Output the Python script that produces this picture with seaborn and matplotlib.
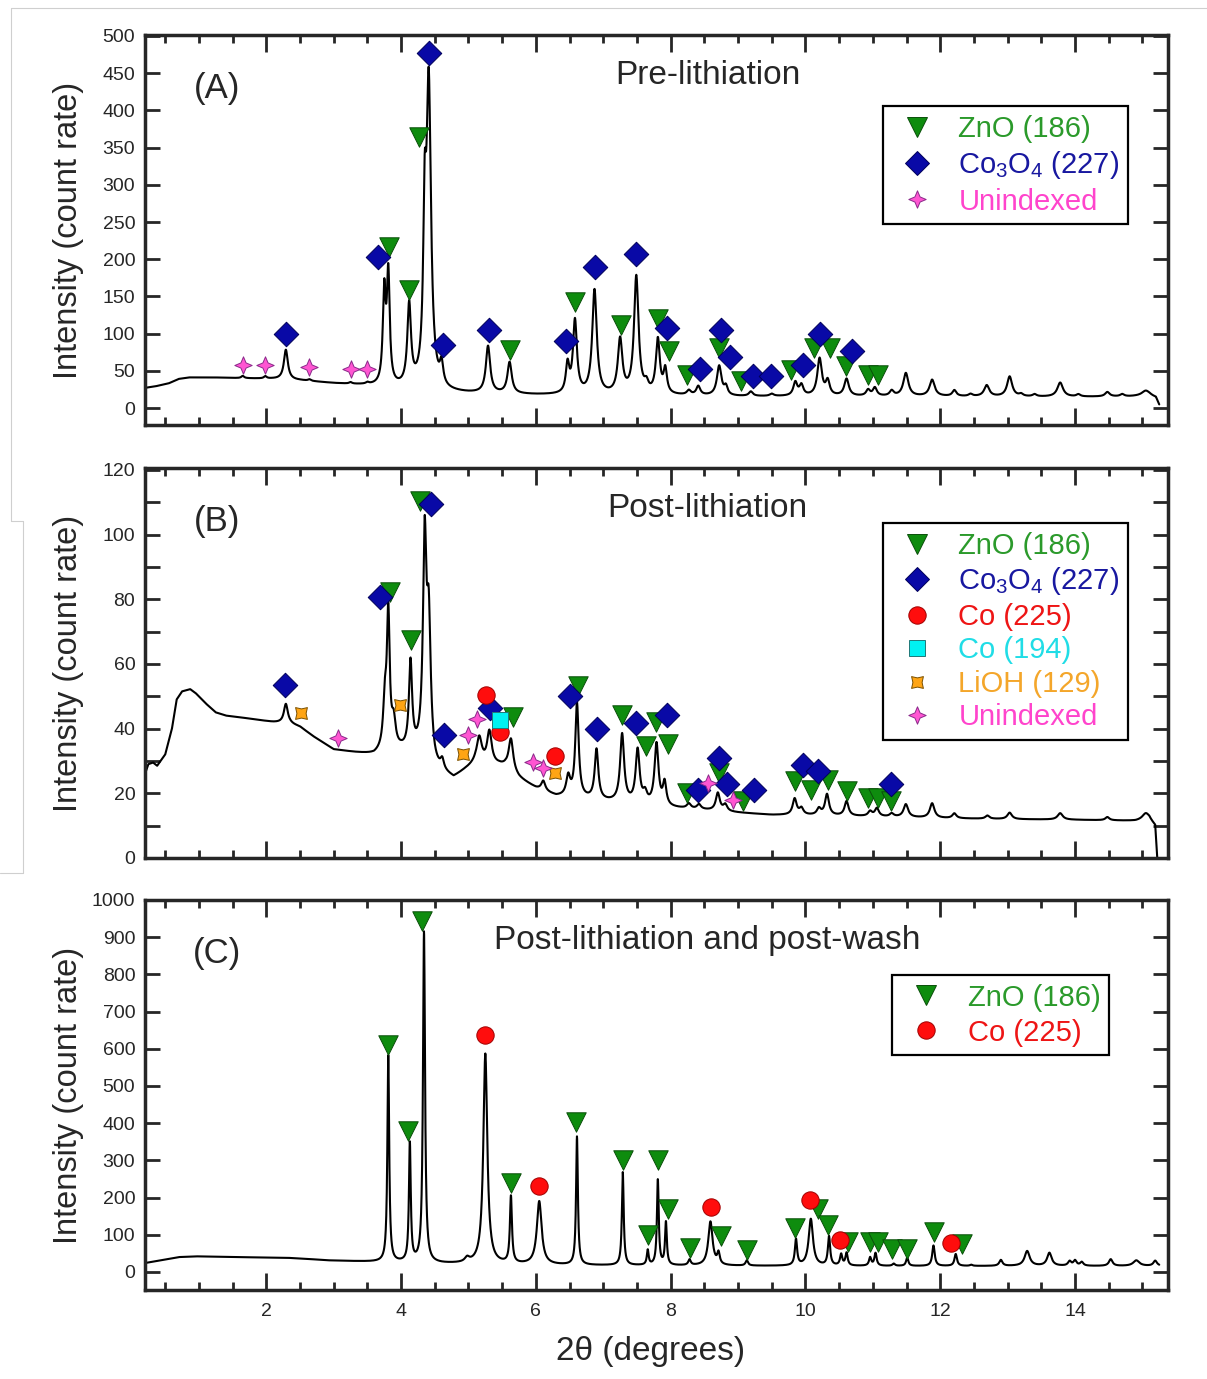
import numpy as np
import pandas as pd
import matplotlib
matplotlib.use("Agg")
import matplotlib.pyplot as plt
from matplotlib.lines import Line2D
from matplotlib.path import Path
from matplotlib.ticker import MultipleLocator
import seaborn as sns

# ---------------- Panel A : pre-lithiation ----------------
a_bg_x = [0.2, 0.35, 0.55, 0.7, 0.85, 1.2, 1.6, 2.1, 2.5, 3.0, 3.5, 3.7, 4.0, 4.3, 4.6, 5.0, 5.5,
          6.0, 7.0, 8.0, 9.0, 10.0, 11.0, 12.0, 13.0, 14.0, 14.8, 15.1, 15.2, 15.25]
a_bg_y = [27, 29, 33, 39, 41, 41, 40, 39, 37, 33, 30, 28, 26, 25, 21, 19.5, 18.5,
          17.5, 16.5, 16.5, 15.5, 15.5, 15.5, 15.5, 15, 15, 15.5, 16.5, 14, 4]
a_peak_pos = [1.65, 1.985, 2.29, 2.64, 3.25, 3.50, 3.75, 3.81, 4.12, 4.35, 4.41, 4.60, 5.29, 5.61,
              6.47, 6.58, 6.87, 7.25, 7.49, 7.64, 7.81, 7.92, 8.27, 8.41, 8.72, 8.82, 9.19, 9.50,
              9.85, 9.94, 10.21, 10.33, 10.61, 10.93, 11.03, 11.28, 11.49, 11.88, 12.21, 12.45,
              12.69, 13.03, 13.2, 13.4, 13.78, 14.05, 14.48, 14.7, 15.05]
a_peak_amp = [3, 3, 40, 2, 2, 2, 122, 146, 108, 190, 404, 28, 63, 42,
              38, 98, 140, 73, 158, 11, 73, 32, 6, 12, 40, 11, 6, 3,
              18, 14, 50, 19, 23, 8, 11, 7, 31, 22, 8, 3,
              15, 27, 3, 3, 19, 3, 6, 3, 7]
a_peak_hw = [0.025, 0.025, 0.035, 0.025, 0.025, 0.025, 0.025, 0.025, 0.032, 0.025, 0.04, 0.03, 0.038, 0.038,
             0.03, 0.035, 0.04, 0.04, 0.04, 0.035, 0.035, 0.03, 0.035, 0.035, 0.04, 0.03, 0.035, 0.035,
             0.035, 0.035, 0.04, 0.035, 0.04, 0.035, 0.035, 0.035, 0.045, 0.045, 0.035, 0.035,
             0.045, 0.045, 0.035, 0.035, 0.05, 0.035, 0.04, 0.035, 0.07]

a_zno_x = [3.82, 4.12, 4.26, 5.61, 6.58, 7.26, 7.81, 7.97, 8.24, 8.72, 9.04, 9.79, 10.12, 10.37, 10.60, 10.93, 11.07]
a_zno_y = [216, 159, 364, 78, 143, 111, 120, 76, 44, 81, 37, 51, 81, 81, 57, 45, 45]
a_co3o4_x = [2.29, 3.66, 4.41, 4.62, 5.30, 6.45, 6.87, 7.49, 7.94, 8.43, 8.74, 8.88, 9.22, 9.49, 9.96, 10.21, 10.69]
a_co3o4_y = [99.5, 203, 477, 84.5, 104.5, 90, 190, 206.5, 108, 52, 104.5, 68.4, 42.5, 43.5, 57.8, 99, 77]
a_unidx_x = [1.65, 1.985, 2.64, 3.25, 3.50]
a_unidx_y = [57.8, 57.8, 55.5, 52.4, 52]

# ---------------- Panel B : post-lithiation ----------------
b_bg_x = [0.2, 0.25, 0.32, 0.38, 0.5, 0.6, 0.67, 0.75, 0.87, 0.95, 1.1, 1.25, 1.4, 1.6, 2.1, 2.35,
          2.5, 2.7, 3.0, 3.3, 3.6, 3.72, 4.0, 4.3, 4.5, 4.62, 4.78, 4.95, 5.1, 5.45, 5.55, 5.75,
          6.0, 6.3, 6.6, 7.0, 7.5, 8.0, 8.5, 9.0, 9.5, 10.0, 11.0, 12.0, 13.0, 14.0, 14.9,
          15.1, 15.19, 15.22]
b_bg_y = [26, 29, 29.5, 28.5, 32, 40, 49, 51.5, 52.2, 51, 47.8, 45, 44, 43.5, 42, 41.5,
          40.5, 37.5, 33.5, 32.6, 31.8, 32.5, 33, 32, 27, 26, 24.5, 27, 29, 28.5, 28, 24.5,
          21.5, 19, 18.5, 17.5, 16.5, 15.5, 14.8, 14, 13.3, 13.2, 12.8, 12.3, 12, 11.8, 11.5,
          12, 10, 0]
b_peak_pos = [2.29, 3.76, 3.81, 3.89, 4.14, 4.35, 4.41, 4.61, 5.16, 5.31, 5.63, 6.11, 6.48, 6.61,
              6.90, 7.28, 7.51, 7.62, 7.79, 7.91, 8.27, 8.42, 8.70, 8.81, 9.84, 9.94, 10.2, 10.32,
              10.61, 10.96, 11.06, 11.28, 11.49, 11.88, 12.21, 12.7, 13.03, 13.78, 14.48, 15.05]
b_peak_amp = [6, 14, 41, 8, 27, 64, 41, 3, 8, 10, 10, 3, 6, 29,
              15.5, 21, 16.5, 3, 19, 7, 1.5, 1.5, 5.5, 2, 5, 2, 2, 6.5,
              4.5, 1.5, 2.5, 1, 4, 4.5, 1.5, 1, 2, 2, 1, 2]
b_peak_hw = [0.035, 0.03, 0.025, 0.035, 0.028, 0.03, 0.035, 0.03, 0.045, 0.04, 0.04, 0.035, 0.035, 0.03,
             0.032, 0.035, 0.035, 0.035, 0.035, 0.03, 0.035, 0.035, 0.035, 0.035, 0.035, 0.035, 0.035, 0.035,
             0.035, 0.035, 0.035, 0.035, 0.04, 0.04, 0.035, 0.035, 0.04, 0.045, 0.035, 0.06]

b_zno_x = [3.83, 4.15, 4.28, 5.66, 6.63, 7.28, 7.64, 7.78, 7.96, 8.24, 8.72, 9.08, 9.84, 10.09,
           10.34, 10.61, 10.93, 11.07, 11.27]
b_zno_y = [82.4, 67.4, 110.5, 43.7, 53.3, 44.2, 34.7, 42, 35.2, 20.2, 26.2, 17.6, 23.9, 21,
           24.1, 20.8, 18.4, 18.4, 17.6]
b_co3o4_x = [2.27, 3.69, 4.44, 4.64, 5.32, 6.50, 6.91, 7.49, 7.94, 8.41, 8.72, 8.84, 9.24, 9.96, 10.18, 11.27]
b_co3o4_y = [53.5, 80.8, 109.4, 38, 46.3, 50.1, 39.8, 41.8, 44.3, 21.1, 30.8, 23, 21.1, 28.9, 27, 23]
b_co225_x = [5.26, 5.47, 6.29]
b_co225_y = [50.4, 38.9, 31.5]
b_co194_x = [5.47]
b_co194_y = [42.7]
b_lioh_x = [2.52, 3.99, 4.92, 6.28]
b_lioh_y = [44.7, 47.3, 32.2, 26.4]
b_unidx_x = [3.07, 5.00, 5.13, 5.96, 6.10, 8.56, 8.93]
b_unidx_y = [37, 38, 42.9, 29.6, 27.7, 23.1, 17.9]

# ---------------- Panel C : post-lithiation and post-wash ----------------
c_bg_x = [0.2, 0.45, 0.7, 0.95, 1.5, 2.3, 2.6, 2.9, 3.6, 4.6, 5.6, 6.5, 8.0, 10.0, 12.0, 14.0, 15.25]
c_bg_y = [24, 32, 40, 42, 40, 38, 35, 31, 27, 22, 20, 18, 17, 16, 16, 16, 16]
c_peak_pos = [3.81, 4.13, 4.34, 4.98, 5.25, 5.63, 6.05, 6.61, 7.29, 7.66, 7.81, 7.93, 8.28, 8.59,
              8.71, 9.13, 9.86, 10.08, 10.35, 10.53, 10.61, 10.96, 11.04, 11.31, 11.51, 11.90,
              12.23, 12.46, 12.90, 13.29, 13.62, 13.92, 14.0, 14.1, 14.53, 14.91, 15.19]
c_peak_amp = [555, 320, 890, 12, 565, 180, 170, 345, 250, 40, 230, 115, 15, 118,
              30, 14, 70, 126, 78, 30, 34, 22, 34, 6, 22, 55,
              32, 3, 16, 40, 35, 12, 14, 10, 18, 15, 14]
c_peak_hw = [0.016, 0.016, 0.018, 0.04, 0.035, 0.018, 0.042, 0.016, 0.016, 0.016, 0.016, 0.016, 0.022, 0.038,
             0.022, 0.022, 0.02, 0.038, 0.02, 0.02, 0.02, 0.02, 0.02, 0.022, 0.02, 0.022,
             0.022, 0.022, 0.028, 0.045, 0.04, 0.028, 0.028, 0.028, 0.032, 0.055, 0.032]

c_zno_x = [3.81, 4.10, 4.31, 5.63, 6.59, 7.30, 7.66, 7.81, 7.96, 8.28, 8.74, 9.13, 9.85, 10.18,
           10.34, 10.63, 10.96, 11.07, 11.29, 11.50, 11.91, 12.33]
c_zno_y = [611, 380, 943, 240, 402, 301, 99, 300, 170, 65, 97, 58, 118, 170,
           126, 81, 81, 81, 63, 63, 108, 76]
c_co225_x = [5.25, 6.05, 8.60, 10.07, 10.51, 12.16]
c_co225_y = [638, 231, 175, 193, 85, 78]


def star_path(r_in):
    verts = []
    for k in range(4):
        a = np.pi / 2 - k * np.pi / 2
        verts.append((np.cos(a), np.sin(a)))
        b = a - np.pi / 4
        verts.append((r_in * np.cos(b), r_in * np.sin(b)))
    verts.append(verts[0])
    return Path(verts, closed=True)


def lioh_path():
    verts = []
    for k in range(4):
        a = np.deg2rad(45 + 90 * k)
        verts.append((np.cos(a), np.sin(a)))
        b = a + np.pi / 4
        verts.append((0.55 * np.cos(b), 0.55 * np.sin(b)))
    verts.append(verts[0])
    return Path(verts, closed=True)


PHASES = {
    "zno": dict(marker="v", ms=14, fc="#0e8c0e", ec="#0a4f0a", tc="#2b9a2b", label="ZnO (186)"),
    "co3o4": dict(marker="D", ms=12.5, fc="#0909a6", ec="#00005a", tc="#1818a0",
                  label=r"Co$_3$O$_4$ (227)"),
    "co225": dict(marker="o", ms=12.5, fc="#ff0d0d", ec="#a00000", tc="#ee1515", label="Co (225)"),
    "co194": dict(marker="s", ms=12, fc="#00f2f2", ec="#207878", tc="#20dde6", label="Co (194)"),
    "lioh": dict(marker=lioh_path(), ms=8.5, fc="#ffa514", ec="#7a5000", tc="#f4a62a", label="LiOH (129)"),
    "unidx": dict(marker=star_path(0.42), ms=12.5, fc="#ff55d2", ec="#8a2a8a", tc="#ff44cc", label="Unindexed"),
}


def xrd_trace(x, bg_x, bg_y, pos, amp, hw):
    y = np.interp(x, bg_x, bg_y)
    for p, a, w in zip(pos, amp, hw):
        y = y + a / (1.0 + ((x - p) / w) ** 2)
    return y


def draw_markers(ax, key, xs, ys):
    st = PHASES[key]
    sns.scatterplot(x=xs, y=ys, ax=ax, marker=st["marker"], s=st["ms"] ** 2, color=st["fc"],
                    edgecolor=st["ec"], linewidth=0.7, zorder=5, legend=False)


def add_legend(ax, keys, anchor, spacing):
    handles = []
    for k in keys:
        st = PHASES[k]
        handles.append(Line2D([], [], linestyle="none", marker=st["marker"], markersize=st["ms"],
                              markerfacecolor=st["fc"], markeredgecolor=st["ec"], markeredgewidth=0.7))
    leg = ax.legend(handles, [PHASES[k]["label"] for k in keys], loc="upper left",
                    bbox_to_anchor=anchor, frameon=True, fancybox=False, framealpha=1,
                    edgecolor="black", fontsize=21, handlelength=1.75, handletextpad=0.55,
                    labelspacing=spacing, borderpad=0.3, borderaxespad=0,
                    labelcolor=[PHASES[k]["tc"] for k in keys])
    leg.get_frame().set_linewidth(1.6)


sns.set_style("ticks")
plt.rcParams["font.family"] = ["Liberation Sans", "DejaVu Sans"]
plt.rcParams["mathtext.fontset"] = "custom"
plt.rcParams["mathtext.rm"] = "Liberation Sans"
plt.rcParams["mathtext.it"] = "Liberation Sans"
plt.rcParams["mathtext.default"] = "regular"

W, H = 1207, 1379
fig = plt.figure(figsize=(W / 100, H / 100), dpi=100)

# light frame remnants from the original screenshot
for (x0, y0, x1, y1) in [(11, 8, 1207, 8), (11, 8, 11, 521), (11, 521, 23, 521),
                         (23, 521, 23, 873), (0, 873, 23, 873)]:
    fig.add_artist(Line2D([x0 / W, x1 / W], [1 - y0 / H, 1 - y1 / H], transform=fig.transFigure,
                          color="#cfcfcf", linewidth=0.8))

left, width, height = 145 / W, 1023 / W, 390 / H
axA = fig.add_axes([left, 1 - 425 / H, width, height])
axB = fig.add_axes([left, 1 - 858 / H, width, height])
axC = fig.add_axes([left, 1 - 1290 / H, width, height])

panels = [
    (axA, a_bg_x, a_bg_y, a_peak_pos, a_peak_amp, a_peak_hw, 15.25, (-22.8, 501.3), 50, None,
     "(A)", "Pre-lithiation"),
    (axB, b_bg_x, b_bg_y, b_peak_pos, b_peak_amp, b_peak_hw, 15.22, (0, 120.6), 20, 10,
     "(B)", "Post-lithiation"),
    (axC, c_bg_x, c_bg_y, c_peak_pos, c_peak_amp, c_peak_hw, 15.25, (-48.4, 1000), 100, None,
     "(C)", "Post-lithiation and post-wash"),
]

for ax, bx, by, pp, pa, pw, xend, ylim, ymaj, ymin, tag, title in panels:
    xx = np.linspace(0.2, xend, 6000)
    df = pd.DataFrame({"two_theta": xx, "intensity": xrd_trace(xx, bx, by, pp, pa, pw)})
    sns.lineplot(data=df, x="two_theta", y="intensity", ax=ax, color="black", linewidth=1.5,
                 sort=False, estimator=None)
    ax.set_xlim(0.2, 15.38)
    ax.set_ylim(*ylim)
    ax.xaxis.set_major_locator(MultipleLocator(2))
    ax.xaxis.set_minor_locator(MultipleLocator(0.5))
    ax.yaxis.set_major_locator(MultipleLocator(ymaj))
    if ymin:
        ax.yaxis.set_minor_locator(MultipleLocator(ymin))
        ax.tick_params(axis="y", which="minor", direction="in", length=11, width=2.0,
                       left=True, right=True)
    ax.tick_params(axis="x", which="major", direction="in", length=12.5, width=2.0,
                   top=True, bottom=True, labelsize=14, pad=9)
    ax.tick_params(axis="x", which="minor", direction="in", length=6, width=2.0, top=True, bottom=True)
    ax.tick_params(axis="y", which="major", direction="in", length=11, width=2.0,
                   left=True, right=True, labelsize=14, pad=7)
    for sp in ax.spines.values():
        sp.set_linewidth(2.5)
        sp.set_visible(True)
    ax.set_xlabel("")
    ax.set_ylabel("Intensity (count rate)", fontsize=23.5)
    ax.yaxis.set_label_coords(-0.06, 0.5)
    ax.text(0.07, 0.864, tag, transform=ax.transAxes, fontsize=25, ha="center", va="center")
    ax.text(0.55, 0.895, title, transform=ax.transAxes, fontsize=24, ha="center", va="center")

axA.tick_params(axis="x", labelbottom=False)
axB.tick_params(axis="x", labelbottom=False)
axC.set_xlabel("2θ (degrees)", fontsize=24)
axC.xaxis.set_label_coords(0.494, -0.118)

# phase markers
draw_markers(axA, "zno", a_zno_x, a_zno_y)
draw_markers(axA, "co3o4", a_co3o4_x, a_co3o4_y)
draw_markers(axA, "unidx", a_unidx_x, a_unidx_y)

draw_markers(axB, "zno", b_zno_x, b_zno_y)
draw_markers(axB, "co3o4", b_co3o4_x, b_co3o4_y)
draw_markers(axB, "co225", b_co225_x, b_co225_y)
draw_markers(axB, "co194", b_co194_x, b_co194_y)
draw_markers(axB, "lioh", b_lioh_x, b_lioh_y)
draw_markers(axB, "unidx", b_unidx_x, b_unidx_y)

draw_markers(axC, "zno", c_zno_x, c_zno_y)
draw_markers(axC, "co225", c_co225_x, c_co225_y)

add_legend(axA, ["zno", "co3o4", "unidx"], (0.721, 0.818), 0.22)
add_legend(axB, ["zno", "co3o4", "co225", "co194", "lioh", "unidx"], (0.721, 0.859), 0.19)
add_legend(axC, ["zno", "co225"], (0.730, 0.808), 0.24)

fig.savefig("out.png", dpi=100)
